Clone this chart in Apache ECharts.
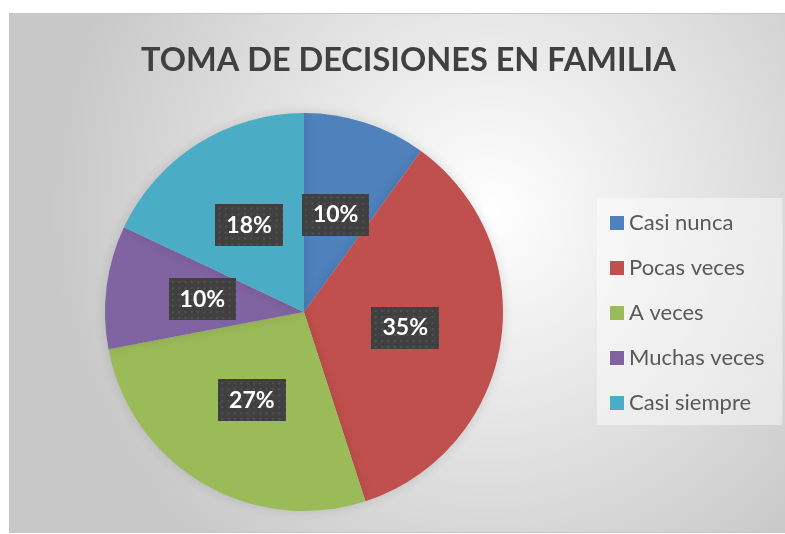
<!DOCTYPE html>
<html>
<head>
<meta charset="utf-8">
<script src="https://cdn.jsdelivr.net/npm/echarts@6/dist/echarts.min.js"></script>
<style>
  html, body { margin: 0; padding: 0; background: #ffffff; }
  #chart {
    position: absolute;
    left: 9px;
    top: 13px;
    width: 775px;
    height: 518px;
    border: 1px solid #c6c6c6;
  }
</style>
</head>
<body>
<div id="chart"></div>
<script>
const titleText = "TOMA DE DECISIONES EN FAMILIA";
const categories = ["Casi nunca", "Pocas veces", "A veces", "Muchas veces", "Casi siempre"];
const values = [10, 35, 27, 10, 18];
const colors = ["#4f81bd", "#c0504d", "#9bbb59", "#8064a2", "#4bacc6"];

// dotted dark texture used behind the data labels
function makeLabelPattern() {
  const c = document.createElement("canvas");
  c.width = 64;
  c.height = 42;
  const ctx = c.getContext("2d");
  ctx.fillStyle = "#404040";
  ctx.fillRect(0, 0, c.width, c.height);
  ctx.fillStyle = "#525252";
  for (let y = 3; y < c.height; y += 6) {
    for (let x = 3; x < c.width; x += 6) {
      ctx.fillRect(x, y, 2, 2);
    }
  }
  return c;
}

const chart = echarts.init(document.getElementById("chart"));

chart.setOption({
  backgroundColor: new echarts.graphic.RadialGradient(0.62, 0.38, 0.85, [
    { offset: 0, color: "#ffffff" },
    { offset: 1, color: "#c8c8c8" },
  ]),
  color: colors,
  title: {
    text: titleText,
    left: 126,
    top: 25,
    textStyle: {
      color: "#404040",
      fontFamily: "Lato",
      fontWeight: "bold",
      fontSize: 32.5,
    },
  },
  legend: {
    orient: "vertical",
    left: 587,
    top: 184,
    data: categories,
    itemWidth: 14,
    itemHeight: 14,
    itemGap: 23,
    icon: "rect",
    padding: [14, 18, 11, 13],
    backgroundColor: "rgba(255,255,255,0.45)",
    textStyle: {
      color: "#595959",
      fontFamily: "Lato",
      fontSize: 22,
      lineHeight: 21,
    },
  },
  series: [
    {
      type: "pie",
      center: [294, 298],
      radius: 199,
      startAngle: 90,
      clockwise: true,
      silent: true,
      data: categories.map((name, i) => ({ name, value: values[i] })),
      itemStyle: {
        shadowBlur: 12,
        shadowColor: "rgba(0,0,0,0.12)",
      },
      label: {
        show: true,
        position: "inside",
        formatter: "{d}%",
        color: "#ffffff",
        fontFamily: "Lato",
        fontWeight: "bold",
        fontSize: 23,
        lineHeight: 22,
        padding: [10, 11, 10, 11],
        backgroundColor: { image: makeLabelPattern() },
        shadowColor: "rgba(0,0,0,0.45)",
        shadowBlur: 5,
        shadowOffsetX: 3,
        shadowOffsetY: 3,
      },
      labelLine: { show: false },
    },
  ],
});
</script>
</body>
</html>
